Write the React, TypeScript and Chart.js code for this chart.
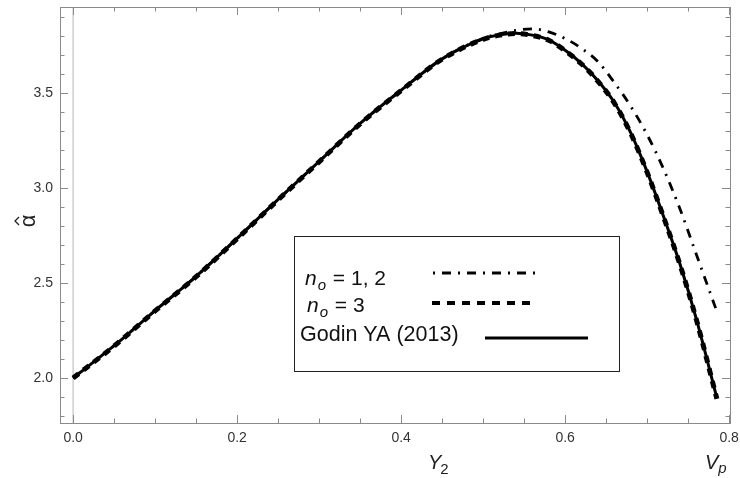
import React, { useEffect, useRef } from "react";
import { Chart, registerables } from "chart.js";

Chart.register(...registerables);

// ---------- data ----------
const X_VALUES = [0, 0.05, 0.1, 0.15, 0.2, 0.25, 0.3, 0.35, 0.4, 0.45, 0.5, 0.52, 0.54, 0.56, 0.58, 0.6, 0.62, 0.64, 0.66, 0.68, 0.7, 0.72, 0.74, 0.76, 0.785];
const Y_NO12 = [2.0, 2.17, 2.355, 2.535, 2.735, 2.94, 3.14, 3.34, 3.515, 3.68, 3.788, 3.812, 3.83, 3.838, 3.822, 3.787, 3.735, 3.665, 3.555, 3.43, 3.28, 3.1, 2.89, 2.65, 2.35];
const Y_NO3 = [2.0, 2.168, 2.353, 2.533, 2.733, 2.938, 3.138, 3.338, 3.513, 3.678, 3.783, 3.805, 3.813, 3.803, 3.778, 3.723, 3.653, 3.562, 3.447, 3.287, 3.082, 2.847, 2.597, 2.307, 1.89];
const Y_GODIN = [2.0, 2.17, 2.355, 2.535, 2.735, 2.94, 3.14, 3.34, 3.515, 3.68, 3.785, 3.807, 3.815, 3.805, 3.78, 3.725, 3.655, 3.565, 3.45, 3.29, 3.085, 2.85, 2.6, 2.31, 1.895];

const X_MAJOR = [0, 0.2, 0.4, 0.6, 0.8];
const X_MINOR = [0.05, 0.1, 0.15, 0.25, 0.3, 0.35, 0.45, 0.5, 0.55, 0.65, 0.7, 0.75];
const Y_MAJOR = [2.0, 2.5, 3.0, 3.5];
const Y_MINOR = [1.8, 1.9, 2.1, 2.2, 2.3, 2.4, 2.6, 2.7, 2.8, 2.9, 3.1, 3.2, 3.3, 3.4, 3.6, 3.7, 3.8, 3.9];

const LEGEND_NO12 = "1, 2";
const LEGEND_NO3 = "3";
const LEGEND_GODIN = "Godin YA (2013)";

const FONT = '"Liberation Sans", Arial, sans-serif';

const toPts = (ys: number[]) => ys.map((y, i) => ({ x: X_VALUES[i], y }));

const framePlugin = {
  id: "mmaFrame",
  beforeDatasetsDraw(chart: any) {
    const { ctx, chartArea: a, scales } = chart;
    const x0 = scales.x.getPixelForValue(0);
    ctx.save();
    ctx.strokeStyle = "#cfcfcf";
    ctx.lineWidth = 1.5;
    ctx.beginPath();
    ctx.moveTo(x0, a.top);
    ctx.lineTo(x0, a.bottom);
    ctx.stroke();
    ctx.restore();
  },
  afterDatasetsDraw(chart: any) {
    const { ctx, chartArea: a, scales } = chart;
    const xs = scales.x;
    const ys = scales.y;
    ctx.save();
    ctx.strokeStyle = "#8a8a8a";
    ctx.lineWidth = 1;
    ctx.setLineDash([]);
    ctx.strokeRect(Math.round(a.left) + 0.5, Math.round(a.top) + 0.5, Math.round(a.right - a.left), Math.round(a.bottom - a.top));
    const tick = (vals: number[], len: number) => {
      vals.forEach((v) => {
        const px = Math.round(xs.getPixelForValue(v)) + 0.5;
        ctx.beginPath();
        ctx.moveTo(px, a.bottom);
        ctx.lineTo(px, a.bottom - len);
        ctx.moveTo(px, a.top);
        ctx.lineTo(px, a.top + len);
        ctx.stroke();
      });
    };
    const tickY = (vals: number[], len: number) => {
      vals.forEach((v) => {
        const py = Math.round(ys.getPixelForValue(v)) + 0.5;
        ctx.beginPath();
        ctx.moveTo(a.left, py);
        ctx.lineTo(a.left + len, py);
        ctx.moveTo(a.right, py);
        ctx.lineTo(a.right - len, py);
        ctx.stroke();
      });
    };
    tick(X_MAJOR, 8);
    tick(X_MINOR, 4.5);
    tickY(Y_MAJOR, 8);
    tickY(Y_MINOR, 4.5);

    // legend box
    const bx = 294, by = 236, bw = 325, bh = 135;
    ctx.fillStyle = "#ffffff";
    ctx.fillRect(bx, by, bw, bh);
    ctx.strokeStyle = "#222";
    ctx.lineWidth = 1;
    ctx.strokeRect(bx + 0.5, by + 0.5, bw, bh);

    const ds = chart.data.datasets;
    const sample = (d: any, x1: number, x2: number, y: number, w: number, dash: number[]) => {
      ctx.save();
      ctx.strokeStyle = d.borderColor;
      ctx.lineWidth = w;
      ctx.setLineDash(dash);
      ctx.lineCap = "butt";
      ctx.beginPath();
      ctx.moveTo(x1, y);
      ctx.lineTo(x2, y);
      ctx.stroke();
      ctx.restore();
    };
    sample(ds[0], 433, 535, 273, 3, [2, 7, 9, 7]);
    sample(ds[1], 432, 531, 303, 4, [8, 7]);
    sample(ds[2], 485, 588, 338, ds[2].borderWidth, []);

    ctx.fillStyle = "#111";
    ctx.textBaseline = "alphabetic";
    ctx.textAlign = "left";
    const nLabel = (x: number, y: number, rest: string) => {
      ctx.font = `italic 21px ${FONT}`;
      ctx.fillText("n", x, y);
      const wn = ctx.measureText("n").width;
      ctx.font = `italic 15px ${FONT}`;
      ctx.fillText("o", x + wn + 1, y + 5);
      const wo = ctx.measureText("o").width;
      ctx.font = `21px ${FONT}`;
      ctx.fillText(" = " + rest, x + wn + wo + 2, y);
    };
    nLabel(305, 285, LEGEND_NO12);
    nLabel(307, 312, LEGEND_NO3);
    ctx.font = `21.5px ${FONT}`;
    ctx.fillText(LEGEND_GODIN, 300, 341);

    // axis titles
    ctx.fillStyle = "#222";
    ctx.font = `italic 20px ${FONT}`;
    ctx.fillText("Y", 428, 469);
    const wy = ctx.measureText("Y").width;
    ctx.font = `15px ${FONT}`;
    ctx.fillText("2", 428 + wy - 1, 474);

    ctx.font = `italic 20px ${FONT}`;
    ctx.fillText("V", 705, 469);
    const wv = ctx.measureText("V").width;
    ctx.font = `italic 15px ${FONT}`;
    ctx.fillText("p", 705 + wv, 473);

    // rotated alpha-hat
    ctx.save();
    ctx.translate(35, 221);
    ctx.rotate(-Math.PI / 2);
    ctx.textAlign = "center";
    ctx.font = `22px ${FONT}`;
    ctx.fillText("\u03B1", 0, 0);
    ctx.strokeStyle = "#222";
    ctx.lineWidth = 1.3;
    ctx.beginPath();
    ctx.moveTo(-4, -16);
    ctx.lineTo(0, -20);
    ctx.lineTo(4, -16);
    ctx.stroke();
    ctx.restore();

    ctx.restore();
  },
};

export default function App() {
  const ref = useRef<HTMLCanvasElement | null>(null);
  useEffect(() => {
    document.body.style.margin = "0";
    const canvas = ref.current;
    if (!canvas) return;
    const chart = new Chart(canvas, {
      type: "line",
      data: {
        datasets: [
          {
            label: "n_o = 1, 2",
            data: toPts(Y_NO12),
            borderColor: "#000",
            borderWidth: 2.8,
            borderDash: [9, 7, 2, 7],
            pointRadius: 0,
            cubicInterpolationMode: "monotone",
            fill: false,
          },
          {
            label: "n_o = 3",
            data: toPts(Y_NO3),
            borderColor: "#000",
            borderWidth: 5,
            borderDash: [7, 6],
            pointRadius: 0,
            cubicInterpolationMode: "monotone",
            fill: false,
          },
          {
            label: "Godin YA (2013)",
            data: toPts(Y_GODIN),
            borderColor: "#000",
            borderWidth: 3,
            pointRadius: 0,
            cubicInterpolationMode: "monotone",
            fill: false,
          },
        ],
      },
      options: {
        responsive: false,
        animation: false,
        parsing: false as any,
        layout: { padding: { top: 7, right: 10, left: 0, bottom: 0 } },
        plugins: { legend: { display: false }, tooltip: { enabled: false } },
        scales: {
          x: {
            type: "linear",
            min: -0.016,
            max: 0.801,
            grid: { display: false, drawTicks: false },
            border: { display: false },
            afterBuildTicks: (s: any) => {
              s.ticks = X_MAJOR.map((v) => ({ value: v }));
            },
            afterFit: (s: any) => {
              s.height = 55;
              s.paddingLeft = 0;
              s.paddingRight = 0;
            },
            ticks: {
              padding: 7,
              color: "#333",
              font: { family: FONT, size: 14 },
              maxRotation: 0,
              callback: (v: any) => Number(v).toFixed(1),
            },
          },
          y: {
            type: "linear",
            min: 1.763,
            max: 3.953,
            grid: { display: false, drawTicks: false },
            border: { display: false },
            afterBuildTicks: (s: any) => {
              s.ticks = Y_MAJOR.map((v) => ({ value: v }));
            },
            afterFit: (s: any) => {
              s.width = 60;
              s.paddingTop = 0;
              s.paddingBottom = 0;
            },
            ticks: {
              padding: 7,
              color: "#333",
              font: { family: FONT, size: 14 },
              callback: (v: any) => Number(v).toFixed(1),
            },
          },
        },
      },
      plugins: [framePlugin],
    });
    return () => chart.destroy();
  }, []);
  return (
    <div style={{ width: 740, height: 478, background: "#fff" }}>
      <canvas ref={ref} width={740} height={478} style={{ display: "block", width: 740, height: 478 }} />
    </div>
  );
}
